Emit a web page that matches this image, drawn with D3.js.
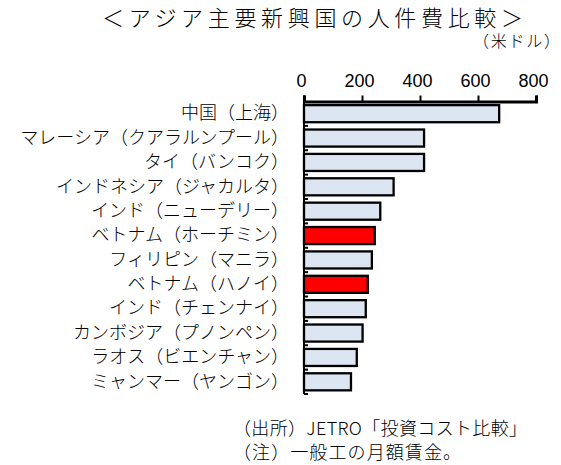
<!DOCTYPE html>
<html>
<head>
<meta charset="utf-8">
<script src="https://cdn.jsdelivr.net/npm/d3@7"></script>
<style>
body { margin: 0; background: #fff; }
text { font-family: "Noto Sans CJK JP", sans-serif; font-weight: 300; fill: #000; }
</style>
</head>
<body>
<svg id="chart" width="561" height="465"></svg>
<script>
// Asian labour cost comparison, monthly wage of general worker (USD)
var categories = ["中国（上海）", "マレーシア（クアラルンプール）", "タイ（バンコク）",
    "インドネシア（ジャカルタ）", "インド（ニューデリー）", "ベトナム（ホーチミン）",
    "フィリピン（マニラ）", "ベトナム（ハノイ）", "インド（チェンナイ）",
    "カンボジア（プノンペン）", "ラオス（ビエンチャン）", "ミャンマー（ヤンゴン）"]
var values = [673, 414, 414, 309, 263, 244, 234, 220, 213, 202, 182, 162]
var highlight = ["ベトナム（ホーチミン）", "ベトナム（ハノイ）"]
var xTicks = [0, 200, 400, 600, 800]

var title = "＜アジア主要新興国の人件費比較＞"
var unit = "（米ドル）"
var notes = ["（出所）JETRO「投資コスト比較」", "（注）一般工の月額賃金。"]

var data = categories.map(function(c, i) { return {name: c, value: values[i]} })

var svg = d3.select("#chart")

var x = d3.scaleLinear()
    .domain([0, 800])
    .range([304, 536])

var y = d3.scaleBand()
    .domain(categories)
    .range([101.5, 394])
    .paddingInner(0.3)
    .paddingOuter(0.15)

// title
svg.append("text")
    .attr("x", 102)
    .attr("y", 26)
    .attr("textLength", 421)
    .attr("lengthAdjust", "spacing")
    .style("font-size", "22px")
    .text(title)

svg.append("text")
    .attr("x", 473)
    .attr("y", 47)
    .attr("textLength", 87)
    .attr("lengthAdjust", "spacing")
    .style("font-size", "16px")
    .text(unit)

// bars
svg.selectAll("rect.bar")
    .data(data)
    .enter()
    .append("rect")
    .attr("class", "bar")
    .attr("x", x(0))
    .attr("y", d => y(d.name))
    .attr("width", d => x(d.value) - x(0))
    .attr("height", y.bandwidth())
    .attr("fill", d => highlight.includes(d.name) ? "#ff0000" : "#dce6f2")
    .attr("stroke", "#000")
    .attr("stroke-width", 2.3)

// top value axis
var xAxis = svg.append("g")
    .attr("transform", "translate(0,101.5)")
    .call(d3.axisTop(x).tickValues(xTicks).tickSize(6).tickSizeOuter(6).tickPadding(8.5))
xAxis.select(".domain").attr("stroke", "#000").attr("stroke-width", 3)
xAxis.selectAll("line").attr("stroke", "#000").attr("stroke-width", 2)
xAxis.selectAll("text")
    .attr("dx", -3)
    .style("font-family", "'Liberation Sans', Arial, sans-serif")
    .style("font-weight", "normal")
    .style("font-size", "18px")

// left category axis
var yAxis = svg.append("g")
    .attr("transform", "translate(" + x(0) + ",0)")
    .call(d3.axisLeft(y).tickSize(0).tickPadding(15))
yAxis.select(".domain").remove()
yAxis.selectAll("text").style("font-size", "18px")

svg.append("line")
    .attr("x1", x(0)).attr("x2", x(0))
    .attr("y1", 95.5).attr("y2", 394)
    .attr("stroke", "#000").attr("stroke-width", 2)

svg.selectAll("line.ctick")
    .data(categories)
    .enter()
    .append("line")
    .attr("class", "ctick")
    .attr("x1", x(0)).attr("x2", x(0) + 4)
    .attr("y1", d => y(d) + y.bandwidth() + (y.step() - y.bandwidth()) / 2)
    .attr("y2", d => y(d) + y.bandwidth() + (y.step() - y.bandwidth()) / 2)
    .attr("stroke", "#000").attr("stroke-width", 2)

// notes
var noteLen = [294, 228]
svg.selectAll("text.note")
    .data(notes)
    .enter()
    .append("text")
    .attr("class", "note")
    .attr("x", 233)
    .attr("y", (d, i) => 435 + i * 24)
    .attr("textLength", (d, i) => noteLen[i])
    .attr("lengthAdjust", "spacing")
    .style("font-size", "18px")
    .text(d => d)
</script>
</body>
</html>
